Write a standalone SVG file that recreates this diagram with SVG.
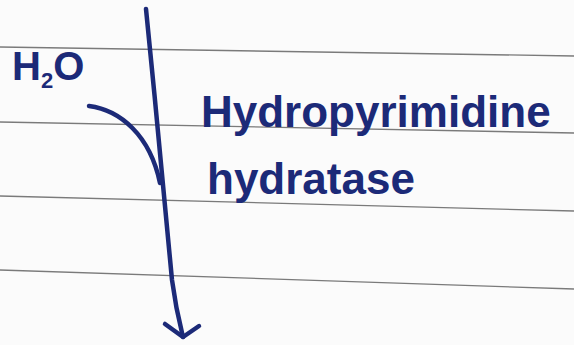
<svg xmlns="http://www.w3.org/2000/svg" width="574" height="345" viewBox="0 0 574 345">
<style>
.rule{stroke:#7a7a7a;stroke-width:1.3;fill:none}
.ink{stroke:#1c2a78;stroke-width:4.5;fill:none;stroke-linecap:round;stroke-linejoin:round}
.txt{fill:#1c2a78;font-family:"Liberation Sans",Arial,sans-serif;font-weight:bold}
</style>
<rect x="0" y="0" width="574" height="345" fill="#fbfbfb"/>
<g id="ruled-lines">
<line class="rule" x1="0" y1="47" x2="574" y2="56"/>
<line class="rule" x1="0" y1="122" x2="574" y2="133"/>
<line class="rule" x1="0" y1="196" x2="574" y2="211"/>
<line class="rule" x1="0" y1="270" x2="574" y2="289"/>
</g>
<g id="connectors">
<path class="ink" d="M146,9 C155,100 165,200 172,280 C176,310 180,325 183,337"/>
<path class="ink" d="M165,324 L183,337 L199,326"/>
<path class="ink" d="M89,106 C120,110 150,135 160,183"/>
</g>
<g id="node-h2o">
<text class="txt" x="12" y="80" font-size="40">H<tspan font-size="22" dy="8">2</tspan><tspan dy="-8">O</tspan></text>
</g>
<g id="node-enzyme">
<text class="txt" x="201" y="127" font-size="44">Hydropyrimidine</text>
<text class="txt" x="207" y="194" font-size="44">hydratase</text>
</g>
</svg>
